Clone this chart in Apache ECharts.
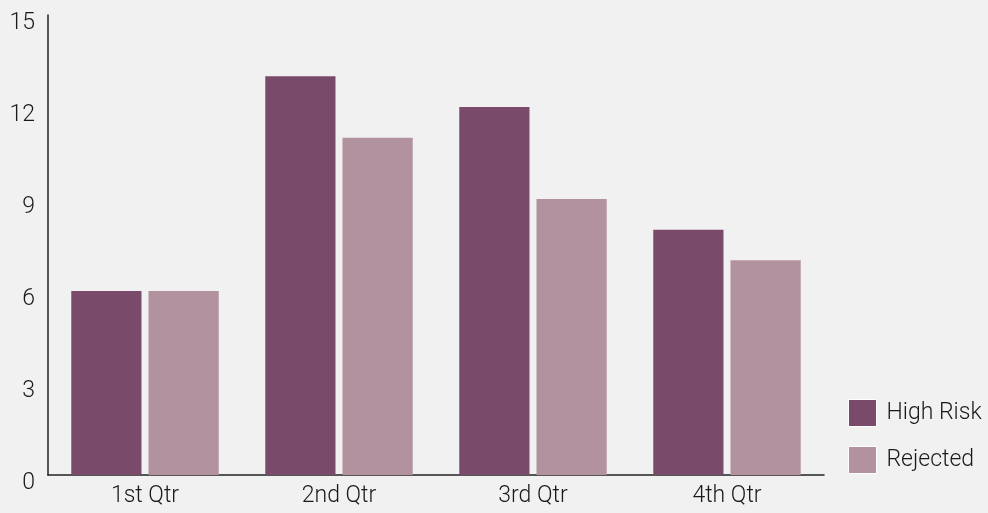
<!DOCTYPE html>
<html>
<head>
<meta charset="utf-8">
<script src="https://cdn.jsdelivr.net/npm/echarts@6/dist/echarts.min.js"></script>
<style>
html,body{margin:0;padding:0;background:#f1f1f1;}
#c{width:988px;height:513px;}
</style>
</head>
<body>
<div id="c"></div>
<script>
const categories = ['1st Qtr', '2nd Qtr', '3rd Qtr', '4th Qtr'];
const highRisk = [6, 13, 12, 8];
const rejected = [6, 11, 9, 7];
const yTicks = [0, 3, 6, 9, 12, 15];

const chart = echarts.init(document.getElementById('c'));
const font = 'Roboto, "Liberation Sans", Arial, sans-serif';
const fw = 300;
chart.setOption({
  backgroundColor: '#f1f1f1',
  animation: false,
  textStyle: { fontFamily: font },
  grid: { left: 48, right: 164, top: 15, bottom: 38 },
  legend: {
    orient: 'vertical', left: 843, top: 394,
    itemWidth: 28, itemHeight: 27, itemGap: 19,
    icon: 'rect',
    itemStyle: { borderColor: '#ffffff', borderWidth: 1 },
    textStyle: { fontSize: 23, color: '#1a1a1a', fontFamily: font, fontWeight: fw, padding: [0, 0, 0, 5] },
    data: ['High Risk', 'Rejected']
  },
  xAxis: {
    type: 'category', data: categories,
    axisLine: { lineStyle: { color: '#222', width: 1.5 } },
    axisTick: { show: false },
    axisLabel: { fontSize: 23, color: '#1a1a1a', margin: 10, fontFamily: font, fontWeight: fw }
  },
  yAxis: {
    type: 'value', min: yTicks[0], max: yTicks[yTicks.length - 1], interval: 3,
    axisLine: { show: true, lineStyle: { color: '#222', width: 1.5 } },
    axisTick: { show: false },
    splitLine: { show: false },
    axisLabel: { fontSize: 23, color: '#1a1a1a', margin: 13, verticalAlign: 'top', lineHeight: 16, fontFamily: font, fontWeight: fw }
  },
  series: [
    { name: 'High Risk', type: 'bar', data: highRisk, barGap: '10%', barCategoryGap: '24%',
      itemStyle: { color: '#7a4a6b' } },
    { name: 'Rejected', type: 'bar', data: rejected,
      itemStyle: { color: '#b3929f' } }
  ]
});
</script>
</body>
</html>
